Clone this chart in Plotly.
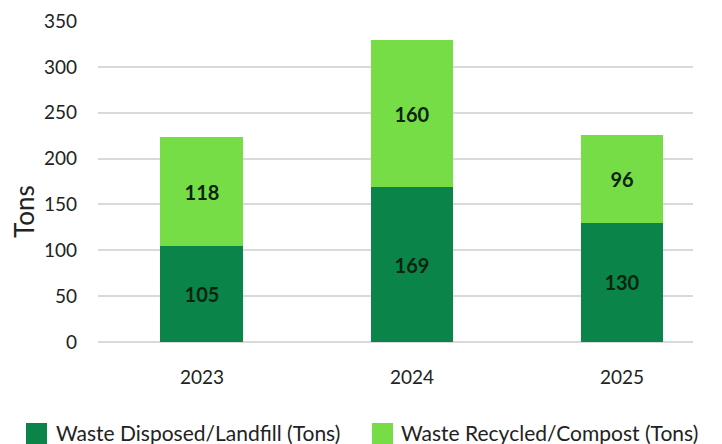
import plotly.graph_objects as go

years = ["2023", "2024", "2025"]
landfill = [105, 169, 130]
recycled = [118, 160, 96]
y_ticks = [0, 50, 100, 150, 200, 250, 300, 350]
series_names = ["Waste Disposed/Landfill (Tons)", "Waste Recycled/Compost (Tons)"]

FONT = "Lato"
DARK = "#0A8449"
LIGHT = "#77DD47"
LABEL = "#0B2410"
TXT = "#222222"
colors = [DARK, LIGHT]

fig = go.Figure()
for name, vals, col in zip(series_names, [landfill, recycled], colors):
    fig.add_trace(go.Bar(
        x=years, y=vals, name=name,
        marker=dict(color=col, line=dict(width=0)), width=0.395,
        text=vals, textposition="inside", insidetextanchor="middle",
        textfont=dict(family=FONT, size=20, color=LABEL, weight="bold"),
        showlegend=False,
    ))

# manual legend (paper coordinates)
leg_rect_x = [(-0.1210, -0.0857), (0.4605, 0.4958)]
leg_text_x = [-0.0740, 0.5059]
shapes = []
annotations = []
for (x0, x1), tx, name, col in zip(leg_rect_x, leg_text_x, series_names, colors):
    shapes.append(dict(type="rect", xref="paper", yref="paper", x0=x0, x1=x1,
                       y0=-0.3178, y1=-0.2523, fillcolor=col, line=dict(width=0)))
    annotations.append(dict(xref="paper", yref="paper", x=tx, y=-0.2804,
                            xanchor="left", yanchor="middle", showarrow=False,
                            text=name, font=dict(family=FONT, size=21, color=TXT)))
annotations.append(dict(xref="paper", yref="paper", x=-0.1244, y=0.408,
                        xanchor="center", yanchor="middle", showarrow=False,
                        text="Tons", textangle=-90,
                        font=dict(family=FONT, size=26, color=TXT)))

fig.update_layout(
    barmode="stack",
    width=722, height=444,
    margin=dict(l=98, r=29, t=21, b=102, autoexpand=False),
    plot_bgcolor="white", paper_bgcolor="white",
    font=dict(family=FONT, size=18, color=TXT),
    showlegend=False,
    shapes=shapes,
    annotations=annotations,
    uniformtext=dict(mode="show", minsize=10),
)
fig.update_xaxes(type="category", range=[-0.495, 2.338], showgrid=False, automargin=False,
                 showline=False, ticks="", tickfont=dict(size=19, color=TXT),
                 ticklabelstandoff=22)
fig.update_yaxes(range=[0, 350], tickvals=y_ticks, showgrid=True, gridcolor="#D9D9D9",
                 gridwidth=1.5, zeroline=True, zerolinecolor="#D9D9D9", zerolinewidth=1.5,
                 showline=False, ticks="", tickfont=dict(size=19, color=TXT),
                 ticklabelstandoff=20, automargin=False)

fig.write_html("out.html", config={"displayModeBar": False},
               post_script="document.body.style.margin='0';")
